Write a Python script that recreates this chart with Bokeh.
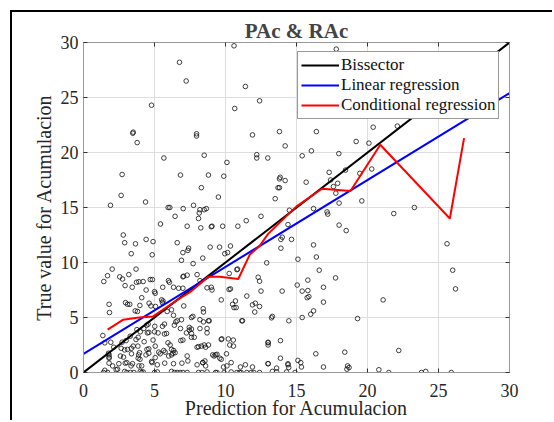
from bokeh.plotting import figure
from bokeh.models import LinearAxis, Range1d, Legend, LegendItem, FixedTicker
from bokeh.embed import file_html
from bokeh.resources import INLINE

# ---------------- data ----------------
pred = [
    10.6, 6.76, 7.23, 11.4, 10.65, 12.4, 4.79, 3.47, 3.5, 3.78, 7.96, 7.96, 11.9, 13.8, 5.66, 8.5, 12.2, 12.2, 12.98, 10.1,
    2.72, 6.83, 8.8, 9.88, 8.3, 2.65, 4.37, 9.5, 6.08, 7.02, 7.75, 8.2, 8.65, 1.9, 13.8, 13.8, 13.5,
    17.8, 16.4, 20.4, 22.1, 14.2, 15.4, 16.05, 17.98, 19.2, 20.1, 13.85, 14.2, 13.7, 15.68, 17.3, 17.4, 17.6, 17.9, 18.45,
    19.46, 20.3, 17.77, 19.6, 18.0, 16.2, 23.3,
    21.85, 17.15, 17.2, 14.5, 14.4, 18.0, 18.5, 13.9, 14.0, 14.65, 13.9, 16.2, 16.4, 15.1, 16.6, 17.75, 15.8, 15.05, 13.99,
    15.4, 15.8, 16.9, 15.87, 16.9, 16.2, 16.0, 15.4, 13.3, 14.46, 19.3, 21.1, 25.6, 26.0, 26.2, 22.2, 18.4, 16.36, 13.87,
    13.0, 13.87, 14.4, 14.45, 15.3, 15.35, 13.3, 13.6, 14.3, 16.9, 18.6, 18.7, 18.55, 20.8, 21.5, 23.8, 24.1, 25.9,
    5.96, 6.45, 8.1, 8.15, 8.5, 9.0, 9.05, 9.8, 8.26, 7.3, 5.42, 10.87, 11.46, 12.5, 2.8, 2.9, 4.41, 4.9, 3.66, 3.36, 4.84,
    6.6, 7.4, 7.35, 7.0, 7.72, 6.9, 8.92, 9.58, 10.35, 9.95, 10.15, 10.8, 10.85, 10.26, 8.4, 8.0, 8.2, 7.3, 7.0, 7.05, 5.98,
    6.05, 6.34, 6.7, 7.0, 5.58, 1.43, 1.69, 2.02, 2.55, 2.75, 3.19, 3.7, 3.73, 3.9, 2.93, 3.43, 4.2, 4.7, 4.85, 4.41, 5.0,
    5.05, 1.8, 1.83, 2.96, 3.1, 3.26, 3.64, 3.8, 4.1, 3.97, 4.62, 4.75, 5.07, 5.56, 5.6, 5.5, 5.89, 6.2, 6.34, 7.06, 7.6,
    7.7, 8.2, 8.85, 8.43, 8.45, 8.7, 9.0, 9.05, 9.7, 10.25, 10.35, 10.7, 10.75, 11.2, 11.5, 11.9, 12.06, 12.4, 12.3, 12.4,
    12.9, 13.24, 13.0, 13.0, 13.6,
    1.4, 1.5, 1.7, 1.36, 1.5, 1.76, 1.8, 1.8, 1.8, 1.8, 1.92, 2.13, 2.05, 2.3, 2.4, 2.49, 2.6, 2.65, 2.72, 3.0, 2.9, 3.1,
    2.82, 2.94, 3.05, 2.9, 3.05, 3.29, 3.37, 3.5, 3.38, 3.45, 3.35, 3.3, 3.55, 3.76, 4.0, 3.85, 3.7, 3.83, 3.95, 3.88, 3.85,
    3.98, 3.9, 4.1, 4.0, 4.2, 4.1, 4.25, 4.45, 4.55, 4.5, 4.6, 4.27, 4.47, 4.6, 4.4, 4.6, 4.83, 4.8, 5.02, 5.0, 5.25, 4.9,
    5.05, 5.3, 5.4, 5.05, 5.2, 5.0, 5.2, 5.56, 5.7, 5.7, 5.85, 5.95, 6.1, 5.65, 5.75, 6.0, 6.2, 5.72, 6.2, 6.4, 6.6, 6.8,
    7.0, 7.3, 6.4, 6.5, 6.6, 6.9, 6.83, 6.2, 6.35, 6.3, 6.45, 6.34, 6.93, 6.85, 7.0, 7.25, 7.45, 7.6, 7.45, 7.6, 7.3, 7.35,
    7.6, 7.8, 8.0, 8.1, 8.35, 8.7, 8.1, 8.3, 8.2, 8.5, 8.8, 8.7, 8.4, 8.55, 9.1, 9.4, 9.3, 9.7, 9.7, 10.2, 10.55, 10.3,
    10.4, 10.1, 9.3, 9.9, 10.4, 10.8, 11.1, 11.5, 12.0, 11.05, 11.9, 11.4,
    12.5, 12.1, 15.75, 10.5, 10.6, 8.45, 8.8, 11.15, 8.7, 9.74, 10.56, 13.0, 8.0, 8.6, 9.2, 9.6, 10.07, 9.86, 13.0, 14.4,
    15.1, 8.4, 8.6, 9.4, 12.4, 14.9, 11.0, 11.8,
]
true = [
    29.7, 28.2, 26.5, 26.0, 24.0, 24.7, 24.3, 21.75, 21.85, 20.9, 21.7, 21.5, 21.6, 21.9, 19.5, 19.75, 19.8, 19.5, 19.5, 19.1,
    18.0, 17.95, 17.95, 17.85, 16.8, 16.1, 15.5, 15.95, 15.0, 14.9, 15.2, 14.8, 14.9, 15.2, 17.6, 16.8, 15.8,
    29.4, 21.9, 22.3, 22.4, 20.6, 19.7, 20.15, 19.9, 21.0, 20.85, 17.75, 17.45, 16.8, 17.3, 18.2, 17.5, 16.9, 17.2, 18.4,
    18.1, 18.5, 16.3, 15.6, 15.4, 14.9, 15.0,
    14.45, 14.6, 14.4, 14.75, 13.45, 13.4, 12.9, 12.1, 12.3, 12.1, 11.3, 11.6, 10.5, 10.3, 9.3, 8.6, 8.4, 7.95, 7.4,
    7.4, 7.45, 7.75, 6.9, 6.4, 5.6, 5.3, 5.0, 5.1, 4.7, 4.9, 6.6, 11.7, 9.3, 7.6, 2.0, 1.85, 1.7, 2.9,
    2.7, 1.3, 0.7, 0.45, 0.9, 0.5, 0.1, 0.4, 0.05, 0.5, 0.6, 0.45, 0.3, 0.25, 0.0, 0.0, 0.1, 0.0,
    15.0, 14.2, 14.0, 14.5, 14.8, 13.25, 13.3, 13.3, 13.15, 13.3, 13.5, 13.3, 13.8, 14.2, 12.5, 11.8, 12.1, 11.9, 11.7, 10.8, 10.7,
    11.8, 11.3, 11.1, 10.9, 9.9, 10.2, 11.4, 11.4, 11.5, 10.8, 10.9, 9.35, 9.4, 9.0, 10.4, 8.9, 8.35, 8.85, 8.7, 8.75, 8.35,
    8.2, 7.75, 7.66, 7.66, 7.75, 8.27, 8.8, 9.4, 8.7, 8.5, 8.9, 9.4, 8.2, 8.25, 7.9, 7.75, 8.27, 8.45, 8.45, 7.5, 7.35,
    7.2, 6.2, 5.45, 6.35, 6.2, 6.2, 5.6, 5.55, 6.8, 6.1, 6.3, 6.05, 6.0, 6.35, 6.5, 6.6, 5.55, 5.7, 5.2, 6.05, 5.0,
    5.1, 4.8, 4.7, 5.8, 5.5, 7.7, 7.75, 7.5, 6.6, 7.55, 7.6, 6.5, 5.9, 4.7, 6.95, 6.15, 5.5, 6.0, 8.66, 8.3,
    9.97, 4.97, 2.75, 0.8, 0.06,
    0.0, 0.2, 0.0, 3.36, 2.7, 1.75, 1.6, 1.4, 1.3, 0.85, 2.75, 2.3, 0.6, 0.25, 0.3, 0.8, 1.5, 2.2, 2.76, 2.9, 2.05, 2.1,
    1.4, 0.85, 0.9, 0.1, 0.0, 3.3, 2.2, 2.4, 1.7, 0.8, 0.6, 0.0, 0.0, 3.9, 3.7, 3.2, 3.0, 2.4, 1.8, 1.6, 1.3,
    1.2, 0.6, 0.6, 0.1, 0.05, 0.0, 4.0, 4.3, 4.4, 3.6, 3.65, 2.8, 2.1, 2.15, 1.6, 1.75, 0.9, 1.0, 4.2, 3.7, 3.6, 2.95,
    2.4, 1.85, 1.7, 1.35, 0.7, 0.0, 0.05, 4.2, 4.4, 3.5, 3.55, 2.7, 2.5, 2.0, 1.85, 1.5, 1.6, 0.85, 0.1, 0.0, 0.0, 0.0,
    0.0, 0.0, 4.3, 4.6, 4.7, 4.8, 4.0, 2.1, 2.0, 1.75, 1.8, 0.8, 0.85, 2.9, 2.95, 3.6, 3.85, 3.55, 4.1, 3.95, 1.5, 1.05,
    3.2, 3.2, 0.7, 0.0, 0.0, 0.05, 2.35, 2.4, 4.0, 2.5, 2.5, 4.0, 0.9, 1.05, 1.6, 1.65, 1.6, 1.2, 3.0, 3.05, 2.95, 2.5,
    0.9, 0.6, 0.0, 0.0, 0.05, 0.0, 0.0, 0.0, 0.0, 0.5, 0.5, 0.7,
    7.4, 6.3, 6.8, 6.2, 5.9, 4.6, 4.7, 4.7, 3.6, 3.06, 2.4, 2.5, 2.3, 2.3, 1.5, 1.3, 1.7, 0.5, 0.8, 0.8,
    1.1, 0.9, 0.6, 0.0, 0.0, 0.0, 0.0, 0.0,
]

# bisector (y = x)
bis_x = [0, 30]
bis_y = [0, 30]

# linear regression line
lin_x = [0, 30]
lin_y = [1.7, 25.4]

# conditional regression line
cond_x = [1.7, 2.8, 3.9, 4.9, 6.5, 7.6, 8.8, 9.6, 10.9, 11.7, 12.4, 13.0, 13.8, 15.0, 16.8, 18.8, 20.9, 25.8, 26.8]
cond_y = [3.9, 4.8, 5.0, 5.1, 6.5, 7.4, 8.7, 8.7, 8.5, 10.7, 11.5, 12.6, 13.6, 15.1, 16.7, 16.5, 20.7, 14.0, 21.3]

ticks = [0, 5, 10, 15, 20, 25, 30]

title_text = "PAc & RAc"
x_label = "Prediction for Acumulacion"
y_label = "True value for Acumulacion"
legend_labels = ["Bissector", "Linear regression", "Conditional regression"]

SERIF = "Liberation Serif"

p = figure(width=542, height=410, x_range=Range1d(0, 30), y_range=Range1d(0, 30),
           output_backend="svg", toolbar_location=None,
           min_border_left=71, min_border_right=45, min_border_top=30, min_border_bottom=50,
           x_axis_label=x_label, y_axis_label=y_label)
p.margin = (10, 0, 0, 10)
p.styles = {"border-left": "2px solid black", "border-top": "2px solid black"}
p.background_fill_color = "white"
p.border_fill_color = "white"
p.outline_line_color = "#9a9a9a"
p.outline_line_width = 1

p.title.text = title_text
p.title.text_font = SERIF
p.title.text_font_size = "21px"
p.title.text_font_style = "bold"
p.title.align = "center"
p.title.standoff = 0
p.title.offset = 0

for ax in (p.xaxis[0], p.yaxis[0]):
    ax.ticker = FixedTicker(ticks=ticks)
    ax.axis_line_color = "#9a9a9a"
    ax.major_tick_line_color = "#333333"
    ax.major_tick_in = 4
    ax.major_tick_out = 0
    ax.minor_tick_line_color = None
    ax.major_label_text_font = SERIF
    ax.major_label_text_font_size = "18px"
    ax.major_label_text_color = "#262626"
    ax.axis_label_text_font = SERIF
    ax.axis_label_text_font_size = "20px"
    ax.axis_label_text_font_style = "normal"
    ax.axis_label_text_color = "#262626"
p.xaxis[0].major_label_standoff = 11
p.yaxis[0].major_label_standoff = 5
p.xaxis[0].axis_label_standoff = -3
p.yaxis[0].axis_label_standoff = 3

for side in ("above", "right"):
    ax = LinearAxis(ticker=FixedTicker(ticks=ticks))
    ax.axis_line_color = "#9a9a9a"
    ax.major_tick_line_color = "#333333"
    ax.major_tick_in = 4
    ax.major_tick_out = 0
    ax.minor_tick_line_color = None
    ax.major_label_text_font_size = "0px"
    ax.major_label_standoff = 0
    ax.major_label_text_color = None
    p.add_layout(ax, side)

p.xgrid.ticker = FixedTicker(ticks=ticks)
p.ygrid.ticker = FixedTicker(ticks=ticks)
p.xgrid.grid_line_color = "#dedede"
p.ygrid.grid_line_color = "#dedede"
p.xgrid.grid_line_width = 1
p.ygrid.grid_line_width = 1

p.scatter(pred, true, marker="circle", size=4.6, fill_color=None,
          line_color="#111111", line_width=0.8)

r_bis = p.line(bis_x, bis_y, line_color="black", line_width=2)
r_lin = p.line(lin_x, lin_y, line_color="#0000ff", line_width=2)
r_cond = p.line(cond_x, cond_y, line_color="#ff0000", line_width=2)

legend = Legend(items=[LegendItem(label=legend_labels[0], renderers=[r_bis]),
                       LegendItem(label=legend_labels[1], renderers=[r_lin]),
                       LegendItem(label=legend_labels[2], renderers=[r_cond])],
                location=(214, 253))
legend.label_text_font = SERIF
legend.label_text_font_size = "17px"
legend.label_text_color = "#111111"
legend.glyph_width = 38
legend.glyph_height = 20
legend.label_height = 20
legend.label_standoff = 2
legend.spacing = 0
legend.padding = 3
legend.margin = 0
legend.border_line_color = "#333333"
legend.border_line_width = 1
legend.background_fill_color = "white"
legend.background_fill_alpha = 1
p.add_layout(legend, "center")

open("out.html", "w").write(file_html(p, INLINE))
